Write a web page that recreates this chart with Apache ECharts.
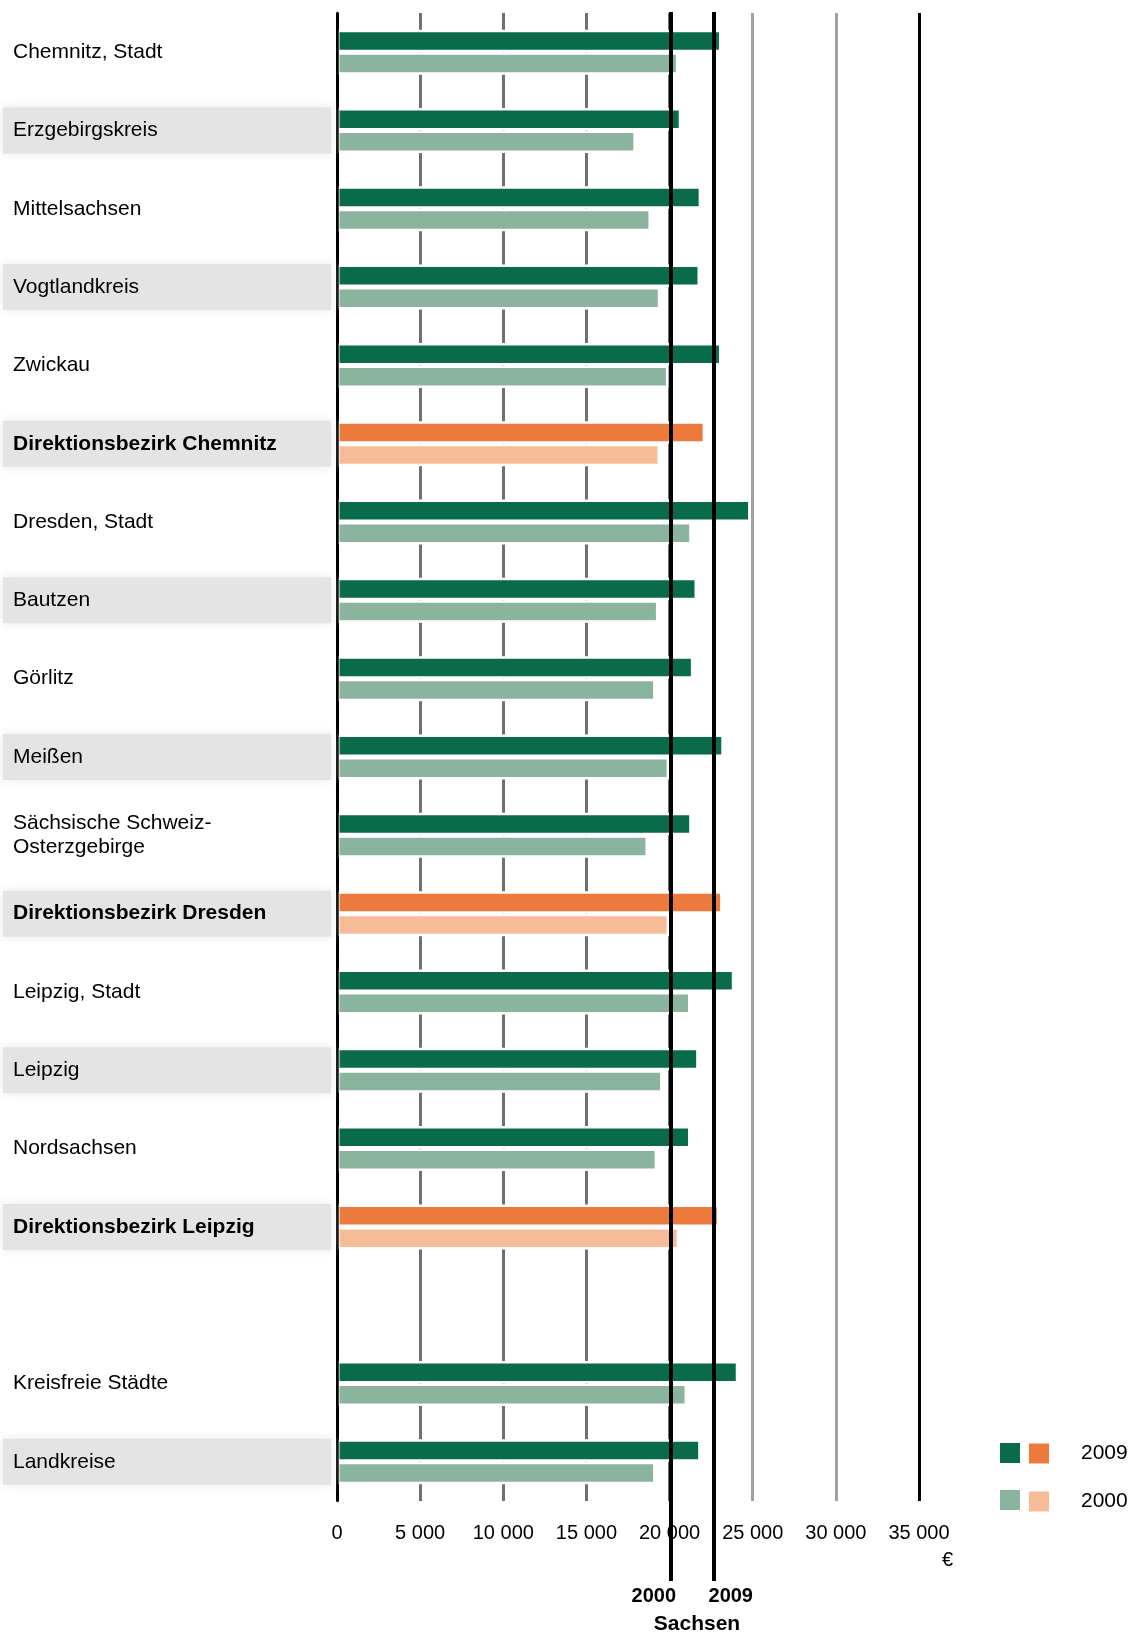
<!DOCTYPE html>
<html><head><meta charset="utf-8">
<script src="https://cdn.jsdelivr.net/npm/echarts@6/dist/echarts.min.js"></script>
<style>html,body{margin:0;padding:0;background:#fff}#c{width:1133px;height:1635px}</style>
</head><body><div id="c"></div>
<script>
// ---- data ----
const categories = ['Chemnitz, Stadt','Erzgebirgskreis','Mittelsachsen','Vogtlandkreis','Zwickau','Direktionsbezirk Chemnitz','Dresden, Stadt','Bautzen','Görlitz','Meißen','Sächsische Schweiz-\nOsterzgebirge','Direktionsbezirk Dresden','Leipzig, Stadt','Leipzig','Nordsachsen','Direktionsbezirk Leipzig','','Kreisfreie Städte','Landkreise'];
const values2009 = [23120, 20700, 21900, 21830, 23120, 22140, 24870, 21650, 21430, 23260, 21330, 23190, 23890, 21750, 21260, 22990, null, 24130, 21870];
const values2000 = [20530, 17970, 18880, 19440, 19930, 19420, 21330, 19330, 19160, 19970, 18700, 19970, 21260, 19580, 19250, 20580, null, 21050, 19160];
const sachsenYears = ['2000', '2009'];
const sachsenValues = [20150, 22720];
const xTickMin = 0, xTickMax = 35000, xTickStep = 5000;
const legendYears = ['2009', '2000'];
const shadedRows = ['Erzgebirgskreis','Vogtlandkreis','Direktionsbezirk Chemnitz','Bautzen','Meißen','Direktionsbezirk Dresden','Leipzig','Direktionsbezirk Leipzig','Landkreise'];

// ---- styles ----
const FONT = 'Liberation Sans, Arial, sans-serif';
const C_G09 = '#0a6b4a', C_G00 = '#8bb49f', C_O09 = '#ec7a3c', C_O00 = '#f6bc97';
const isDistrict = n => n.indexOf('Direktionsbezirk') === 0;
const green09 = values2009.map((v, i) => isDistrict(categories[i]) ? null : v);
const green00 = values2000.map((v, i) => isDistrict(categories[i]) ? null : v);
const orange09 = values2009.map((v, i) => isDistrict(categories[i]) ? v : null);
const orange00 = values2000.map((v, i) => isDistrict(categories[i]) ? v : null);

const fmtThousands = v => String(v).replace(/\B(?=(\d{3})+(?!\d))/g, ' ');

const BAR_W = 22.5;
const GRID_L = 334, GRID_R = 214;
const barStyle = (color) => ({ color: color, borderColor: '#fff', borderWidth: 2.5 });

const chart = echarts.init(document.getElementById('c'), null, { renderer: 'canvas' });
chart.setOption({
  backgroundColor: '#fff',
  textStyle: { fontFamily: FONT },
  animation: false,
  title: {
    text: 'Sachsen', left: 692, top: 1609, textAlign: 'center',
    textStyle: { fontFamily: FONT, fontSize: 21, fontWeight: 'bold', color: '#000' }
  },
  grid: [
    { left: GRID_L, right: GRID_R, top: 13, height: 1488 },
    { left: GRID_L, right: GRID_R, top: 12, bottom: 54 }
  ],
  xAxis: [
    {
      type: 'value', gridIndex: 0, min: xTickMin, max: xTickMax, interval: xTickStep,
      axisLine: { show: false }, axisTick: { show: false },
      splitLine: { show: true, lineStyle: { width: 3, color: ['#000', '#707070', '#707070', '#707070', '#707070', '#a0a0a0', '#a0a0a0', '#000'] } },
      axisLabel: { formatter: v => fmtThousands(v), fontSize: 20, color: '#000', margin: 22, fontFamily: FONT },
      name: '€', nameLocation: 'end', nameGap: 23,
      nameTextStyle: { fontSize: 20, color: '#000', align: 'left', verticalAlign: 'top', padding: [49, 0, 0, 0], fontFamily: FONT }
    },
    { type: 'value', gridIndex: 1, min: xTickMin, max: xTickMax, show: false }
  ],
  yAxis: [
    {
      type: 'category', gridIndex: 0, data: categories, inverse: true, z: 3,
      axisLine: { show: true, lineStyle: { color: '#000', width: 2.5 } },
      axisTick: { show: false }, splitLine: { show: false },
      axisLabel: {
        interval: 0, align: 'left', margin: GRID_L,
        formatter: (val) => {
          if (!val) return '';
          const shaded = shadedRows.indexOf(val) >= 0;
          const bold = isDistrict(val);
          const key = (shaded ? 's' : 'n') + (bold ? 'b' : '');
          return val.split('\n').map(l => '{' + key + '|' + l + '}').join('\n');
        },
        rich: {
          n: { fontSize: 21, color: '#000', fontFamily: FONT, padding: [0, 0, 0, 10], lineHeight: 24 },
          nb: { fontSize: 21, color: '#000', fontFamily: FONT, fontWeight: 'bold', padding: [0, 0, 0, 10], lineHeight: 24 },
          s: { fontSize: 21, color: '#000', fontFamily: FONT, padding: [0, 0, 0, 10], width: 318, height: 46, lineHeight: 46, backgroundColor: '#e4e4e4', shadowBlur: 10, shadowColor: '#e8e8e8' },
          sb: { fontSize: 21, color: '#000', fontFamily: FONT, fontWeight: 'bold', padding: [0, 0, 0, 10], width: 318, height: 46, lineHeight: 46, backgroundColor: '#e4e4e4', shadowBlur: 10, shadowColor: '#e8e8e8' }
        }
      }
    },
    { type: 'value', gridIndex: 1, min: 0, max: 1, show: false }
  ],
  legend: [
    {
      data: legendYears, orient: 'vertical', left: 995, top: 1438,
      itemWidth: 20, itemHeight: 20, itemGap: 27, icon: 'rect', selectedMode: false,
      itemStyle: { borderWidth: 0 }, formatter: () => '',
      textStyle: { fontSize: 21, lineHeight: 20 }
    },
    {
      data: legendYears.map(y => y + ' '), orient: 'vertical', left: 1024, top: 1438,
      itemWidth: 20, itemHeight: 20, itemGap: 27, icon: 'rect', selectedMode: false,
      itemStyle: { borderWidth: 0 }, formatter: n => n.trim(),
      textStyle: { fontSize: 21, lineHeight: 20, color: '#000', fontFamily: FONT, padding: [0, 0, 0, 27] }
    }
  ],
  series: [
    { type: 'bar', name: legendYears[0], stack: 'a', data: green09, barWidth: BAR_W, barGap: '0%', itemStyle: barStyle(C_G09) },
    { type: 'bar', name: legendYears[1], stack: 'b', data: green00, barWidth: BAR_W, barGap: '0%', itemStyle: barStyle(C_G00) },
    { type: 'bar', name: legendYears[0] + ' ', stack: 'a', data: orange09, barWidth: BAR_W, barGap: '0%', itemStyle: barStyle(C_O09) },
    { type: 'bar', name: legendYears[1] + ' ', stack: 'b', data: orange00, barWidth: BAR_W, barGap: '0%', itemStyle: barStyle(C_O00) },
    {
      type: 'line', name: 'Sachsen', xAxisIndex: 1, yAxisIndex: 1, data: [], z: 10, silent: true,
      markLine: {
        silent: true, symbol: ['none', 'none'], animation: false,
        lineStyle: { color: '#000', width: 4, type: 'solid' },
        label: { show: true, position: 'start', distance: 5, fontSize: 20, fontWeight: 'bold', color: '#000', fontFamily: FONT, align: 'center' },
        data: sachsenValues.map((v, i) => ({ xAxis: v, label: { formatter: sachsenYears[i], padding: i === 0 ? [0, 34, 0, 0] : [0, 0, 0, 34] } }))
      }
    }
  ]
});
</script>
</body></html>
